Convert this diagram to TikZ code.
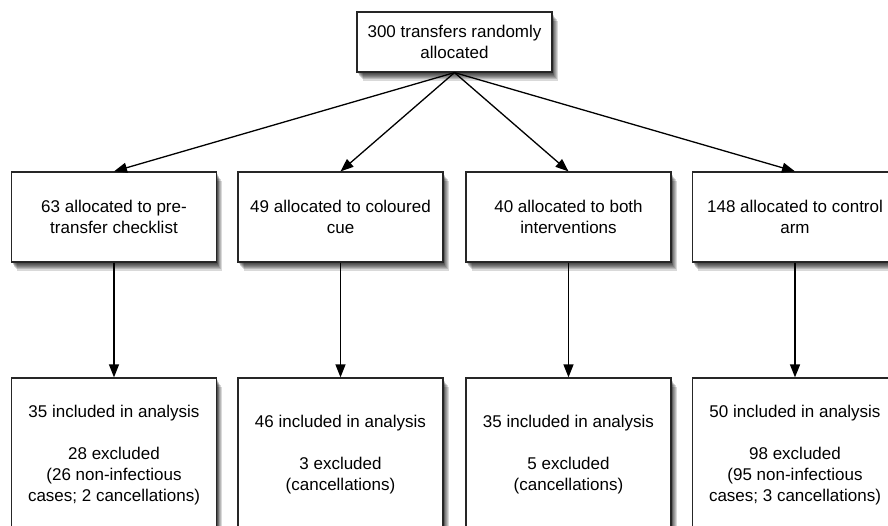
\documentclass[tikz,border=0pt]{standalone}
\usepackage{fontspec}
\setmainfont{Liberation Sans}
\usetikzlibrary{arrows.meta,shadows}
\begin{document}
\begin{tikzpicture}[x=1pt,y=-1pt,
  shd/.style={general shadow={shadow xshift=#1, shadow yshift=-1.4*#1-1pt, fill=black, opacity=0.15, draw=none}},
  box/.style={draw=black!85, line width=1.2pt, fill=white, align=center,
    font=\fontsize{17}{21}\selectfont, inner sep=0pt,
    shd=5.5pt, shd=4.5pt, shd=3.6pt, shd=2.8pt, shd=2.1pt, shd=1.5pt, shd=1pt},
  topbox/.style={box, minimum width=195pt, minimum height=60pt},
  midbox/.style={box, minimum width=205pt, minimum height=90pt},
  botbox/.style={box, minimum width=205pt, minimum height=154pt},
  link/.style={draw=black, line width=1.3pt, -{Triangle[length=13pt,width=10pt]}}]
\useasboundingbox (0,0) rectangle (888,526);
\clip (0,0) rectangle (888,526);
\fill[white] (0,0) rectangle (888,526);

\node[topbox] (top) at (454.5,42) {300 transfers randomly\\allocated};

\node[midbox] (m1) at (114,217) {63 allocated to pre-\\transfer checklist};
\node[midbox] (m2) at (340.5,217) {49 allocated to coloured\\cue};
\node[midbox] (m3) at (568.5,217) {40 allocated to both\\interventions};
\node[midbox] (m4) at (795,217) {148 allocated to control\\arm};

\node[botbox] (b1) at (114,455) {35 included in analysis\\[21pt]28 excluded\\(26 non-infectious\\cases; 2 cancellations)};
\node[botbox] (b2) at (340.5,455) {46 included in analysis\\[21pt]3 excluded\\(cancellations)};
\node[botbox] (b3) at (568.5,455) {35 included in analysis\\[21pt]5 excluded\\(cancellations)};
\node[botbox] (b4) at (795,455) {50 included in analysis\\[21pt]98 excluded\\(95 non-infectious\\cases; 3 cancellations)};

\foreach \i in {1,2,3,4}{
  \draw[link] (top.south) -- (m\i.north);
  \draw[link] (m\i.south) -- (b\i.north);
}
\end{tikzpicture}
\end{document}
